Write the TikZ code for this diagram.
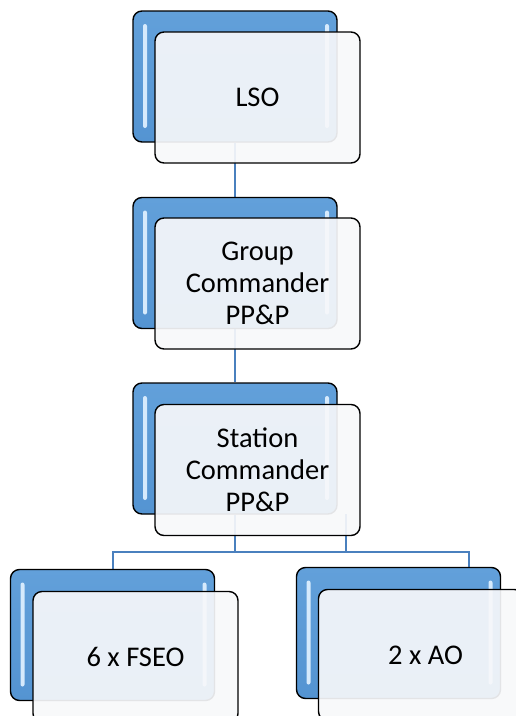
\documentclass[tikz,border=0pt]{standalone}
\usepackage{fontspec}
\setmainfont{Carlito}
\usepackage{xcolor}
\usepackage{tikz}
\usetikzlibrary{positioning,calc,backgrounds}

\definecolor{cardtop}{RGB}{98,160,218}
\definecolor{cardbottom}{RGB}{84,148,210}
\definecolor{cardface}{RGB}{247,248,250}
\definecolor{cardlight}{RGB}{214,234,252}
\definecolor{linkblue}{RGB}{74,128,190}

\begin{document}
\begin{tikzpicture}[x=1pt, y=-1pt,
  backcard/.style={draw, line width=1.4pt, rounded corners=9pt, inner sep=0pt,
    minimum width=204pt, minimum height=131pt, top color=cardtop, bottom color=cardbottom,
    path picture={
      \fill[cardlight, rounded corners=2pt]
        ($(path picture bounding box.north west)+(10,13)$) rectangle ++(4,104);
      \fill[cardlight, rounded corners=2pt]
        ($(path picture bounding box.north east)+(-12,13)$) rectangle ++(4,104);
    }},
  frontcard/.style={draw, line width=1.4pt, rounded corners=9pt, inner sep=2pt,
    fill=cardface, fill opacity=0.92, text opacity=1, align=center,
    minimum width=205pt, minimum height=131pt, font=\fontsize{28.5}{32}\selectfont},
  link/.style={draw=linkblue, line width=2pt}]
\useasboundingbox (0,0) rectangle (515,716);

\node[backcard] (back_0) at (235,76.5) {};
\node[frontcard] (card_0) at (257.5,97.5) {LSO};

\node[backcard] (back_1) at (235,263) {};
\node[frontcard] (card_1) at (257.5,283.5) {Group\\Commander\\PP\&P};

\node[backcard] (back_2) at (235,448.5) {};
\node[frontcard] (card_2) at (257.5,470) {Station\\Commander\\PP\&P};

\node[backcard] (back_3) at (112.5,635) {};
\node[frontcard] (card_3) at (135.5,657) {6 x FSEO};

\node[backcard] (back_4) at (398.5,633) {};
\node[frontcard] (card_4) at (421,655) {\hspace*{9pt}2 x AO};

\coordinate (bus_left) at (112.5,552);
\coordinate (bus_right) at (469,552);
\coordinate (tap_2) at (346,514);

\begin{scope}[on background layer]
\draw[link] (back_0.south) -- (back_1.north);
\draw[link] (back_1.south) -- (back_2.north);
\draw[link] (back_2.south) -- (back_2.south |- bus_left);
\draw[link] (tap_2) -- (tap_2 |- bus_left);
\draw[link] (back_3.north) -- (bus_left) -- (bus_right) -- (bus_right |- back_4.north);
\end{scope}

\end{tikzpicture}
\end{document}
